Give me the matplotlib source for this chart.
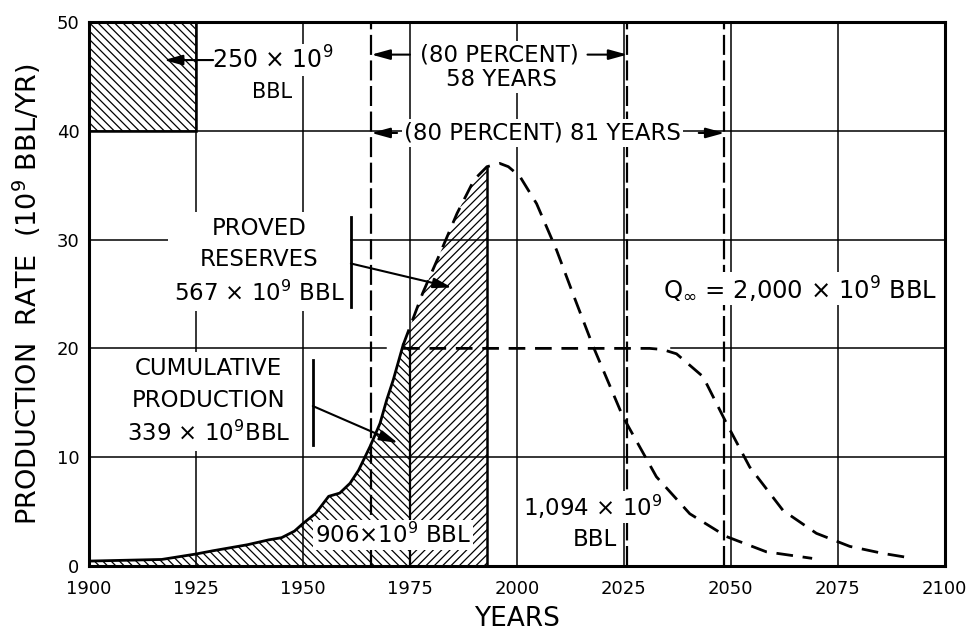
import matplotlib.pyplot as plt
import numpy as np

plt.rcParams['font.family'] = ['DejaVu Sans']
plt.rcParams['mathtext.fontset'] = 'dejavusans'
plt.rcParams['hatch.linewidth'] = 0.9

# axis ticks
x_ticks = [1900, 1925, 1950, 1975, 2000, 2025, 2050, 2075, 2100]
y_ticks = [0, 10, 20, 30, 40, 50]

# recorded production (solid curve), 10^9 bbl/yr
hist_years = [1900, 1917, 1925, 1929, 1937, 1942, 1945, 1948, 1950, 1953,
              1956, 1958.6, 1961, 1963, 1965.7, 1968, 1969.6, 1971.1, 1973.4]
hist_rate = [0.45, 0.6, 1.1, 1.4, 1.95, 2.4, 2.6, 3.2, 3.9, 4.85,
             6.4, 6.7, 7.6, 8.8, 11.0, 13.1, 15.3, 17.1, 20.3]

# complete cycle, Q = 2000e9 bbl (dashed bell)
hub_years = [1973.4, 1978, 1982, 1986, 1990, 1993, 1996, 1998, 2000.7, 2004.6,
             2009.3, 2013.5, 2017.8, 2024.8, 2032.6, 2040.4, 2049, 2058.3, 2069]
hub_rate = [20.3, 25.1, 28.7, 32.4, 35.5, 36.7, 37.0, 36.7, 35.8, 33.3,
            29.0, 24.6, 20.2, 13.7, 8.2, 4.8, 2.7, 1.3, 0.7]

# production held at 20e9 bbl/yr, then declining
plat_years = [1973.4, 2031, 2034, 2037.3, 2043.5, 2049, 2054.4, 2062.2,
              2070, 2077.8, 2085.6, 2092.6]
plat_rate = [20.0, 20.0, 19.9, 19.5, 17.4, 13.1, 9.1, 5.1,
             3.0, 1.8, 1.15, 0.7]

# 80 percent markers
pct_lines = [1966, 2025.8, 2048.5]

cum_end = 1975
res_end = 1993

fig = plt.figure(figsize=(9.72, 6.37), dpi=100)
ax = fig.add_axes([0.0916, 0.1115, 0.8804, 0.854])
ax.set_xlim(1900, 2100)
ax.set_ylim(0, 50)

# grid
for x in x_ticks[1:-1]:
    ax.plot([x, x], [0, 50], color='k', lw=1.1, zorder=2)
for y in [10, 30, 40]:
    ax.plot([1900, 2100], [y, y], color='k', lw=1.1, zorder=2)
ax.plot([1900, 1969.5], [20, 20], color='k', lw=1.1, zorder=2)
ax.plot([2036, 2100], [20, 20], color='k', lw=1.1, zorder=2)

# 250e9 bbl scale box
ax.fill([1900, 1925, 1925, 1900], [40, 40, 50, 50], facecolor='none',
        edgecolor='k', hatch='\\\\\\\\', lw=1.8, zorder=3)

# cumulative production
cum_x = [1900] + hist_years + [cum_end, cum_end]
cum_y = [0] + hist_rate + [20, 0]
ax.fill(cum_x, cum_y, facecolor='none', edgecolor='k', hatch='\\\\\\\\', lw=0, zorder=1)
ax.plot(hist_years, hist_rate, color='k', lw=2, zorder=4)
ax.plot([cum_end, cum_end], [0, 20], color='k', lw=1.6, zorder=4)

# proved reserves
res_top = np.interp(res_end, hub_years, hub_rate)
res_x = [cum_end, cum_end] + [v for v in hub_years if v < res_end] + [res_end, res_end]
res_y = [0, 20] + [r for v, r in zip(hub_years, hub_rate) if v < res_end] + [res_top, 0]
ax.fill(res_x, res_y, facecolor='none', edgecolor='k', hatch='////', lw=0, zorder=1)
ax.plot([res_end, res_end], [0, res_top], color='k', lw=1.8, zorder=4)

# projected curves
ax.plot(hub_years, hub_rate, color='k', lw=2, dashes=(6, 3.5), zorder=4)
ax.plot(plat_years, plat_rate, color='k', lw=2, dashes=(6, 3.5), zorder=4)

for x in pct_lines:
    ax.plot([x, x], [0, 50], color='k', lw=1.6, dashes=(9, 2.5), zorder=3)

box = dict(facecolor='white', edgecolor='none', pad=1.5)
arr = dict(arrowstyle='-|>,head_length=0.8,head_width=0.22', color='k', lw=1.5,
           shrinkA=0, shrinkB=0, mutation_scale=14)

ax.text(1943.0, 46.5, '250 × 10$^9$', fontsize=17, ha='center', va='center', bbox=box, zorder=6)
ax.text(1942.8, 43.6, 'BBL', fontsize=15, ha='center', va='center', bbox=box, zorder=6)
ax.annotate('', xy=(1917.5, 46.5), xytext=(1929.0, 46.5), arrowprops=arr, zorder=7)

ax.text(1996.0, 47.0, '(80 PERCENT)', fontsize=16.5, ha='center', va='center', bbox=box, zorder=6)
ax.text(1996.4, 44.7, '58 YEARS', fontsize=16.5, ha='center', va='center', bbox=box, zorder=6)
ax.annotate('', xy=(pct_lines[0], 47.0), xytext=(1975.0, 47.0), arrowprops=arr, zorder=7)
ax.annotate('', xy=(pct_lines[1], 47.0), xytext=(2016.5, 47.0), arrowprops=arr, zorder=7)

ax.text(2006.0, 39.8, '(80 PERCENT) 81 YEARS', fontsize=16.5, ha='center', va='center',
        bbox=box, zorder=6)
ax.annotate('', xy=(pct_lines[0], 39.8), xytext=(1972.0, 39.8), arrowprops=arr, zorder=7)
ax.annotate('', xy=(pct_lines[2], 39.8), xytext=(2042.5, 39.8), arrowprops=arr, zorder=7)

ax.text(1939.8, 28.0, 'PROVED\nRESERVES\n567 × 10$^9$ BBL', fontsize=16.5, ha='center',
        va='center', linespacing=1.45, bbox=dict(facecolor='white', edgecolor='none', pad=4),
        zorder=6)
ax.plot([1961.2, 1961.2], [23.8, 32.1], color='k', lw=2, zorder=7)
ax.annotate('', xy=(1984.8, 25.6), xytext=(1961.2, 27.8), arrowprops=arr, zorder=7)

ax.text(1928.0, 15.1, 'CUMULATIVE\nPRODUCTION\n339 × 10$^9$BBL', fontsize=16.5, ha='center',
        va='center', linespacing=1.45, bbox=dict(facecolor='white', edgecolor='none', pad=4),
        zorder=6)
ax.plot([1952.3, 1952.3], [11.1, 18.9], color='k', lw=2, zorder=7)
ax.annotate('', xy=(1972.2, 11.3), xytext=(1952.3, 14.7), arrowprops=arr, zorder=7)

ax.text(2066.1, 25.5, r'Q$_\infty$ = 2,000 × 10$^9$ BBL', fontsize=17.5, ha='center',
        va='center', bbox=box, zorder=6)
ax.text(2017.8, 5.45, '1,094 × 10$^9$', fontsize=16.5, ha='center', va='center', bbox=box, zorder=6)
ax.text(2018.2, 2.4, 'BBL', fontsize=16.5, ha='center', va='center', bbox=box, zorder=6)
ax.text(1971.0, 2.85, '906×10$^9$ BBL', fontsize=16.5, ha='center', va='center', bbox=box, zorder=6)

ax.set_xticks(x_ticks)
ax.set_yticks(y_ticks)
ax.tick_params(length=0, labelsize=13)
ax.tick_params(axis='x', pad=10)
ax.tick_params(axis='y', pad=7)
for s in ax.spines.values():
    s.set_linewidth(2.2)
    s.set_zorder(8)

ax.set_xlabel('YEARS', fontsize=19, labelpad=6)
ax.set_ylabel('PRODUCTION  RATE  (10$^9$ BBL/YR)', fontsize=19.5, labelpad=10)

fig.savefig('out.png', dpi=100, facecolor='white')
